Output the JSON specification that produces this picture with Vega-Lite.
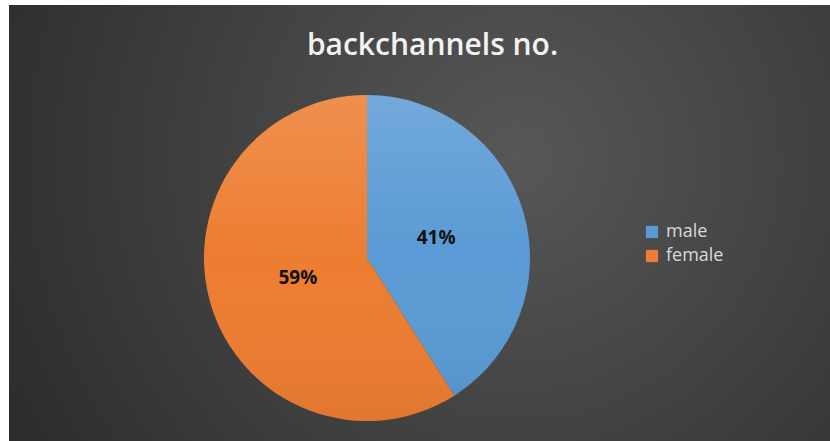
{
  "$schema": "https://vega.github.io/schema/vega-lite/v6.json",
  "width": 821,
  "height": 436,
  "autosize": {"type": "none"},
  "padding": {"left": 9, "top": 5, "right": 0, "bottom": 0},
  "background": "white",
  "config": {"view": {"stroke": null}},
  "title": {
    "text": "backchannels no.",
    "color": "#f2f2f2",
    "font": "Open Sans",
    "fontSize": 30,
    "fontWeight": 600,
    "anchor": "middle",
    "baseline": "middle",
    "offset": -40,
    "dy": 31,
    "dx": 13
  },
  "layer": [
    {
      "data": {"values": [{}]},
      "mark": {
        "type": "rect",
        "color": {
          "gradient": "radial",
          "x1": 0.62, "y1": 0.42, "r1": 0,
          "x2": 0.62, "y2": 0.42, "r2": 0.8,
          "stops": [
            {"offset": 0, "color": "#575757"},
            {"offset": 1, "color": "#262626"}
          ]
        }
      },
      "encoding": {}
    },
    {
      "data": {
        "values": [
          {"gender": "male", "value": 0.41},
          {"gender": "female", "value": 0.59}
        ]
      },
      "encoding": {
        "theta": {"field": "value", "type": "quantitative", "stack": true},
        "order": {"field": "gender", "sort": "descending"}
      },
      "layer": [
        {
          "mark": {"type": "arc", "outerRadius": 163, "x": 358, "y": 253},
          "encoding": {
            "color": {
              "field": "gender",
              "type": "nominal",
              "scale": {"domain": ["male", "female"], "range": ["#5b9bd5", "#ed7d31"]},
              "legend": {
                "title": null,
                "orient": "none",
                "legendX": 634,
                "legendY": 218,
                "padding": 0,
                "symbolType": "square",
                "symbolSize": 150,
                "symbolStrokeWidth": 0,
                "labelFont": "Open Sans",
                "labelFontSize": 18,
                "labelColor": "#d9d9d9",
                "labelOffset": 5,
                "rowPadding": 6
              }
            }
          }
        },
        {
          "mark": {
            "type": "arc",
            "outerRadius": 163,
            "x": 358,
            "y": 253,
            "color": {
              "gradient": "linear",
              "x1": 0, "y1": 0, "x2": 0, "y2": 1,
              "stops": [
                {"offset": 0, "color": "rgba(255,255,255,0.14)"},
                {"offset": 0.5, "color": "rgba(255,255,255,0)"},
                {"offset": 1, "color": "rgba(0,0,0,0.05)"}
              ]
            }
          }
        },
        {
          "mark": {
            "type": "text",
            "radius": 72,
            "x": 358,
            "y": 253,
            "font": "Open Sans",
            "fontSize": 19,
            "fontWeight": "bold",
            "color": "#111111"
          },
          "encoding": {
            "text": {"field": "value", "type": "quantitative", "format": ".0%"}
          }
        }
      ]
    }
  ]
}
